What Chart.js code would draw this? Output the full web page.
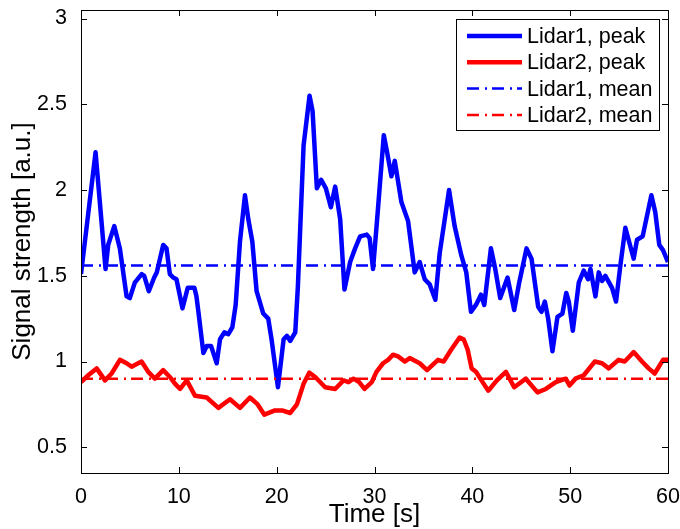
<!DOCTYPE html>
<html>
<head>
<meta charset="utf-8">
<script src="https://cdn.jsdelivr.net/npm/chart.js@4.4.1/dist/chart.umd.min.js"></script>
<style>
  html, body { margin: 0; padding: 0; background: #fff; }
  #wrap { width: 680px; height: 529px; }
</style>
</head>
<body>
<div id="wrap"><canvas id="chart" width="680" height="529"></canvas></div>
<script>
// data ===============================================================
const time1 = [0, 1.49, 2.51, 2.78, 3.4, 3.97, 4.66, 4.99, 5.5, 6.2, 6.46, 6.93, 7.48, 7.75, 8.4, 8.74, 9.08, 9.42, 9.76,
  10.37, 10.91, 11.25, 11.59, 11.8, 12.0, 12.51, 12.85, 13.3, 13.87, 14.21, 14.65, 15.06, 15.47, 15.81, 16.25, 16.76,
  17.1, 17.51, 17.95, 18.63, 19.14, 19.5, 20.13, 20.71, 21.05, 21.39, 21.9, 22.17, 22.75, 23.36, 23.67, 24.11, 24.55,
  25.03, 25.54, 25.98, 26.49, 26.93, 27.51, 28.02, 28.53, 29.21, 29.5, 29.85, 30.27, 30.95, 31.29, 31.73, 32.07, 32.75,
  33.43, 34.11, 34.62, 35.13, 35.64, 36.22, 36.66, 37.62, 38.19, 38.87, 39.38, 39.86, 40.37, 40.88, 41.22, 41.9, 42.31,
  42.85, 43.6, 44.28, 44.79, 45.54, 46.05, 46.73, 47.07, 47.41, 47.75, 48.19, 48.7, 49.21, 49.6, 49.86, 50.27, 50.88,
  51.39, 51.83, 52.07, 52.58, 52.92, 53.26, 53.6, 54.28, 54.69, 55.13, 55.64, 56.49, 56.83, 57.41, 58.3, 58.7, 59.11,
  59.49, 60];
const peak1 = [1.51, 2.22, 1.54, 1.68, 1.79, 1.66, 1.38, 1.37, 1.46, 1.51, 1.50, 1.41, 1.49, 1.52, 1.68, 1.66, 1.51, 1.49, 1.48,
  1.31, 1.43, 1.43, 1.43, 1.38, 1.29, 1.05, 1.09, 1.09, 0.99, 1.13, 1.17, 1.16, 1.20, 1.33, 1.70, 1.97,
  1.83, 1.70, 1.41, 1.28, 1.25, 1.12, 0.85, 1.13, 1.15, 1.12, 1.17, 1.44, 2.26, 2.55, 2.46, 2.01, 2.06,
  2.01, 1.90, 2.02, 1.83, 1.42, 1.58, 1.66, 1.73, 1.74, 1.72, 1.54, 1.83, 2.32, 2.22, 2.08, 2.17, 1.93,
  1.82, 1.52, 1.58, 1.48, 1.45, 1.36, 1.63, 2.00, 1.79, 1.62, 1.52, 1.29, 1.33, 1.39, 1.33, 1.66, 1.55,
  1.37, 1.49, 1.30, 1.46, 1.66, 1.60, 1.32, 1.29, 1.35, 1.25, 1.06, 1.26, 1.28, 1.40, 1.35, 1.18, 1.46,
  1.53, 1.48, 1.54, 1.38, 1.52, 1.47, 1.50, 1.43, 1.35, 1.56, 1.78, 1.60, 1.71, 1.73, 1.97, 1.87, 1.68,
  1.65, 1.58];

const time2 = [0, 0.74, 1.6, 2.45, 3.13, 3.98, 4.66, 5.17, 6.19, 6.87, 7.55, 8.4, 9.08, 9.62, 10.13, 10.81, 11.66,
  12.85, 14.04, 15.23, 16.25, 17.27, 18.06, 18.74, 19.82, 20.54, 21.39, 22.07, 22.75, 23.33, 23.94, 24.96, 25.98,
  26.83, 27.34, 27.85, 28.43, 28.98, 29.72, 30.2, 30.88, 31.39, 31.9, 32.41, 33.09, 33.6, 34.62, 35.37, 36.49, 37.07,
  37.85, 38.7, 39.11, 39.52, 39.93, 40.37, 41.05, 41.63, 42.51, 43.43, 44.28, 45.47, 46.66, 47.51, 48.53, 49.55,
  49.93, 50.54, 51.39, 52.51, 53.26, 53.94, 54.96, 55.57, 56.49, 57.34, 58.02, 58.64, 59.49, 60];
const peak2 = [0.88, 0.92, 0.96, 0.89, 0.93, 1.01, 0.99, 0.97, 1.00, 0.94, 0.90, 0.95, 0.91, 0.87, 0.84, 0.89, 0.80,
  0.79, 0.73, 0.78, 0.73, 0.79, 0.75, 0.69, 0.715, 0.715, 0.70, 0.75, 0.87, 0.935, 0.91, 0.85, 0.84,
  0.89, 0.88, 0.90, 0.88, 0.84, 0.88, 0.94, 0.99, 1.01, 1.04, 1.03, 1.00, 1.02, 0.99, 0.95, 1.01, 1.00,
  1.07, 1.14, 1.13, 1.07, 0.96, 0.94, 0.88, 0.83, 0.89, 0.94, 0.85, 0.90, 0.82, 0.84, 0.88, 0.90,
  0.86, 0.90, 0.92, 1.00, 0.99, 0.96, 1.01, 1.00, 1.055, 1.00, 0.96, 0.93, 1.01, 1.01];

const mean1 = 1.56;
const mean2 = 0.90;
const xRange = [0, 60];

const seriesNames = ["Lidar1, peak", "Lidar2, peak", "Lidar1, mean", "Lidar2, mean"];
const xTicks = [0, 10, 20, 30, 40, 50, 60];
const yTicks = [0.5, 1, 1.5, 2, 2.5, 3];

// helpers ===============================================================
const FONT = "'Liberation Sans', Arial, Helvetica, sans-serif";
const toPoints = (xs, ys) => xs.map((t, i) => ({ x: t, y: ys[i] }));
const dashDot = [12, 6, 2, 5];

// legend drawn like the matlab box, plus inward ticks and frame
const matlabAxes = {
  id: "matlabAxes",
  afterDatasetsDraw(chart) {
    const { ctx, chartArea: a, scales } = chart;
    ctx.save();
    ctx.strokeStyle = "#000";
    ctx.lineWidth = 1;
    ctx.beginPath();
    scales.x.ticks.forEach((t) => {
      const px = Math.round(scales.x.getPixelForValue(t.value)) + 0.5;
      ctx.moveTo(px, a.bottom); ctx.lineTo(px, a.bottom - 6);
      ctx.moveTo(px, a.top); ctx.lineTo(px, a.top + 6);
    });
    scales.y.ticks.forEach((t) => {
      const py = Math.round(scales.y.getPixelForValue(t.value)) + 0.5;
      ctx.moveTo(a.left, py); ctx.lineTo(a.left + 6, py);
      ctx.moveTo(a.right, py); ctx.lineTo(a.right - 6, py);
    });
    ctx.stroke();
    ctx.strokeRect(Math.round(a.left) + 0.5, Math.round(a.top) + 0.5,
      Math.round(a.right - a.left), Math.round(a.bottom - a.top));

    // legend box
    const bx = 456, by = 19, bw = 203, bh = 111;
    ctx.fillStyle = "#fff";
    ctx.fillRect(bx, by, bw, bh);
    ctx.strokeRect(bx + 0.5, by + 0.5, bw, bh);
    ctx.font = "21.5px " + FONT;
    ctx.textBaseline = "middle";
    ctx.textAlign = "left";
    chart.data.datasets.forEach((ds, i) => {
      const y = by + 17 + i * 26.3;
      ctx.strokeStyle = ds.borderColor;
      ctx.lineWidth = ds.borderWidth;
      ctx.setLineDash(ds.borderDash || []);
      ctx.beginPath();
      ctx.moveTo(bx + 11, y);
      ctx.lineTo(bx + 66, y);
      ctx.stroke();
      ctx.setLineDash([]);
      ctx.fillStyle = "#000";
      ctx.fillText(ds.label, bx + 71, y + 1);
    });
    ctx.restore();
  },
};

new Chart(document.getElementById("chart"), {
  type: "line",
  data: {
    datasets: [
      {
        label: seriesNames[0],
        data: toPoints(time1, peak1),
        borderColor: "#0000ff",
        borderWidth: 4.5,
        order: 2,
      },
      {
        label: seriesNames[1],
        data: toPoints(time2, peak2),
        borderColor: "#ff0000",
        borderWidth: 4.5,
        order: 2,
      },
      {
        label: seriesNames[2],
        data: toPoints(xRange, [mean1, mean1]),
        borderColor: "#0000ff",
        borderWidth: 2.5,
        borderDash: dashDot,
        order: 1,
      },
      {
        label: seriesNames[3],
        data: toPoints(xRange, [mean2, mean2]),
        borderColor: "#ff0000",
        borderWidth: 2.5,
        borderDash: dashDot,
        order: 0,
      },
    ],
  },
  options: {
    responsive: false,
    animation: false,
    events: [],
    layout: { padding: { top: 10, right: 12, left: 0, bottom: 0 } },
    elements: {
      point: { radius: 0 },
      line: { tension: 0, borderJoinStyle: "round", fill: false },
    },
    plugins: {
      legend: { display: false },
      tooltip: { enabled: false },
    },
    scales: {
      x: {
        type: "linear",
        min: 0,
        max: 60,
        afterFit: (s) => { s.height = 56; s.paddingLeft = 0; s.paddingRight = 0; },
        afterBuildTicks: (s) => { s.ticks = xTicks.map((v) => ({ value: v })); },
        grid: { display: false },
        border: { display: false },
        ticks: {
          color: "#000",
          padding: 3,
          maxRotation: 0,
          font: { family: FONT, size: 21.5 },
          callback: (v) => String(v),
        },
        title: {
          display: true,
          text: "Time [s]",
          color: "#000",
          font: { family: FONT, size: 26, lineHeight: 1 },
          padding: { top: 0, bottom: 1 },
        },
      },
      y: {
        type: "linear",
        min: 0.35,
        max: 3.05,
        afterFit: (s) => { s.width = 81; s.paddingTop = 0; s.paddingBottom = 0; },
        afterBuildTicks: (s) => { s.ticks = yTicks.map((v) => ({ value: v })); },
        grid: { display: false },
        border: { display: false },
        ticks: {
          color: "#000",
          padding: 6,
          font: { family: FONT, size: 21.5 },
          callback: (v) => String(v),
        },
        title: {
          display: true,
          text: "Signal strength [a.u.]",
          color: "#000",
          font: { family: FONT, size: 26, lineHeight: 1 },
          padding: { top: 9.5, bottom: 0 },
        },
      },
    },
  },
  plugins: [matlabAxes],
});
</script>
</body>
</html>
